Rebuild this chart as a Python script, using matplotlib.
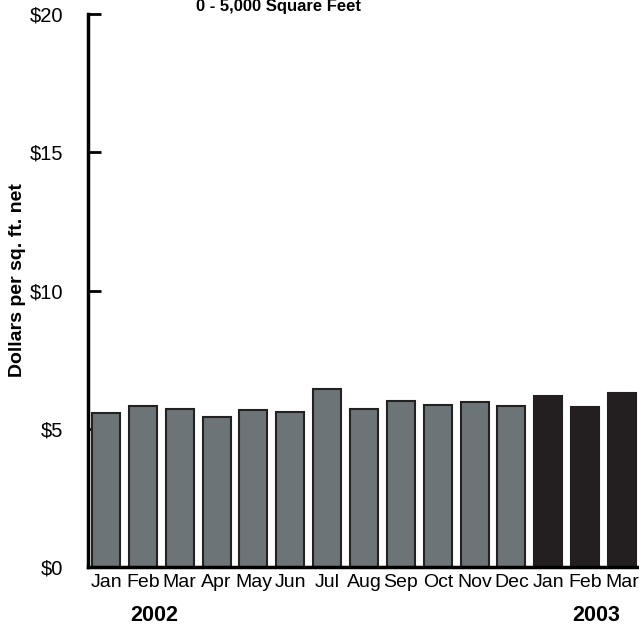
import matplotlib
matplotlib.use("Agg")
from matplotlib import pyplot as plt

months = ['Jan', 'Feb', 'Mar', 'Apr', 'May', 'Jun', 'Jul', 'Aug', 'Sep', 'Oct', 'Nov', 'Dec',
          'Jan', 'Feb', 'Mar']
values = [5.57, 5.82, 5.70, 5.42, 5.67, 5.61, 6.43, 5.72, 6.00, 5.86, 5.97, 5.82,
          6.18, 5.79, 6.28]
years = ['2002', '2003']
yticks = [0, 5, 10, 15, 20]
ytick_labels = ['$0', '$5', '$10', '$15', '$20']

plt.rcParams['font.family'] = ['Liberation Sans', 'DejaVu Sans']

fig = plt.figure(figsize=(6.39, 6.29), dpi=100)
ax = fig.add_axes([88/639, 62/629, 1 - 88/639, (567 - 14)/629])

x = list(range(len(values)))
colours = ['#6d7477'] * 12 + ['#231f20'] * 3
edges = ['#222222'] * 12 + ['#231f20'] * 3
ax.bar(x, values, width=0.76, color=colours, edgecolor=edges, linewidth=1.5, zorder=2)

ax.set_xlim(-0.49, 14.46)
ax.set_ylim(0, 20)
ax.set_yticks(yticks)
ax.set_yticklabels(ytick_labels, fontsize=14.5)
ax.set_xticks(x)
ax.set_xticklabels(months, fontsize=14)
ax.tick_params(axis='y', direction='in', length=9, width=2, pad=18)
ax.tick_params(axis='x', length=0, pad=5)

for s in ['top', 'right']:
    ax.spines[s].set_visible(False)
for s in ['left', 'bottom']:
    ax.spines[s].set_linewidth(2.5)

ax.text(1.3, -0.087, years[0], transform=ax.get_xaxis_transform(), ha='center', va='center',
        fontsize=15.5, fontweight='bold')
ax.text(13.3, -0.087, years[1], transform=ax.get_xaxis_transform(), ha='center', va='center',
        fontsize=15.5, fontweight='bold')

fig.text(18/639, 1 - 280/629, 'Dollars per sq. ft. net', rotation=90, ha='center', va='center',
         fontsize=14, fontweight='bold')
fig.text(279/639, 1 - 7/629, '0 - 5,000 Square Feet', ha='center', va='center',
         fontsize=12, fontweight='bold')

fig.savefig('out.png', dpi=100)
